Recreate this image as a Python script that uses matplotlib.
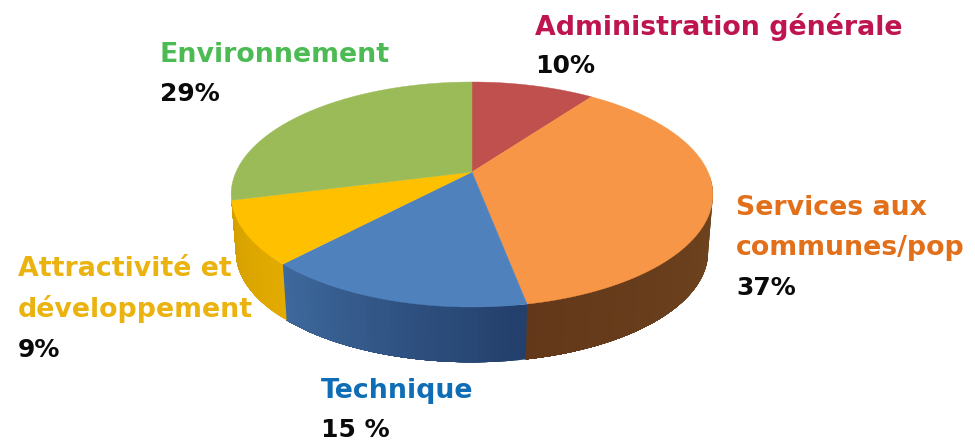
import numpy as np
import matplotlib
matplotlib.use('Agg')
import matplotlib.pyplot as plt
from matplotlib.patches import Polygon
from matplotlib.colors import to_rgb

# clockwise from twelve o'clock
name_lines = [['Administration générale'], ['Services aux', 'communes/pop'], ['Technique'],
              ['Attractivité et', 'développement'], ['Environnement']]
values = [10, 37, 15, 9, 29]
share_labels = ['10%', '37%', '15 %', '9%', '29%']

top_colors = ['#C0504D', '#F79646', '#4F81BD', '#FFC000', '#9BBB59']
side_start = ['#7A302E', '#70451F', '#233F6B', '#E3AB00', '#5E7136']
side_end = ['#7A302E', '#63381A', '#3F6A9E', '#D49F00', '#5E7136']
text_colors = ['#BE1450', '#E2701A', '#0F6DB5', '#EBB30F', '#4CBB53']

# label layout: left edge, first line y, share y
label_x = [535, 736, 321, 18, 160]
label_y = [27, 208, 391, 269, 55]
share_y = [66, 288, 430, 350, 94]
LINE_GAP = 40

# pie geometry, in pixels
CX, APEX_Y = 472, 172
RX, RY = 236, 108
PERSP = 0.2
DEPTH = 58
BOTTOM_SCALE = 0.98
SIDE_FROM, SIDE_TO = np.radians(92), np.radians(255.6)


def rim(theta, y0=APEX_Y, scale=1.0):
    # perspective projection of a point on the disc rim
    x = np.sin(theta)
    z = -np.cos(theta)
    s = scale / (1 - PERSP * z)
    return CX + RX * x * s, y0 + RY * z * s


fig = plt.figure(figsize=(9.75, 4.41), dpi=100)
ax = fig.add_axes([0, 0, 1, 1])
ax.set_xlim(0, 975)
ax.set_ylim(441, 0)
ax.axis('off')

edges = np.cumsum([0] + values) / sum(values) * 2 * np.pi

# side wall first, the top faces cover its upper edge
for i in range(len(values)):
    lo, hi = max(edges[i], SIDE_FROM), min(edges[i + 1], SIDE_TO)
    if hi <= lo:
        continue
    c0, c1 = np.array(to_rgb(side_start[i])), np.array(to_rgb(side_end[i]))
    # each strip runs to the far end of the wedge so no seams show between strips
    for a in np.linspace(lo, hi, 40, endpoint=False):
        t = np.linspace(a, hi, 40)
        xt, yt = rim(t)
        xb, yb = rim(t, APEX_Y + DEPTH, BOTTOM_SCALE)
        f = (a - lo) / (hi - lo)
        col = c1 * f + c0 * (1 - f)
        pts = list(zip(xt, yt)) + list(zip(xb[::-1], yb[::-1]))
        ax.add_patch(Polygon(pts, closed=True, fc=col, ec='none', zorder=2))

# top faces
for i in range(len(values)):
    t = np.linspace(edges[i], edges[i + 1], 120)
    xs, ys = rim(t)
    pts = [(CX, APEX_Y)] + list(zip(xs, ys))
    ax.add_patch(Polygon(pts, closed=True, fc=top_colors[i], ec=top_colors[i], lw=0.3, zorder=3))

# labels: coloured name lines, then the black share
for i in range(len(values)):
    for k, line in enumerate(name_lines[i]):
        ax.text(label_x[i], label_y[i] + k * LINE_GAP, line, color=text_colors[i], fontsize=19.3,
                fontweight='bold', family='DejaVu Sans', ha='left', va='center', zorder=5)
    ax.text(label_x[i], share_y[i], share_labels[i], color='#0A0A0A', fontsize=18,
            fontweight='bold', family='DejaVu Sans', ha='left', va='center', zorder=5)

fig.savefig('out.png', dpi=100, facecolor='white')
